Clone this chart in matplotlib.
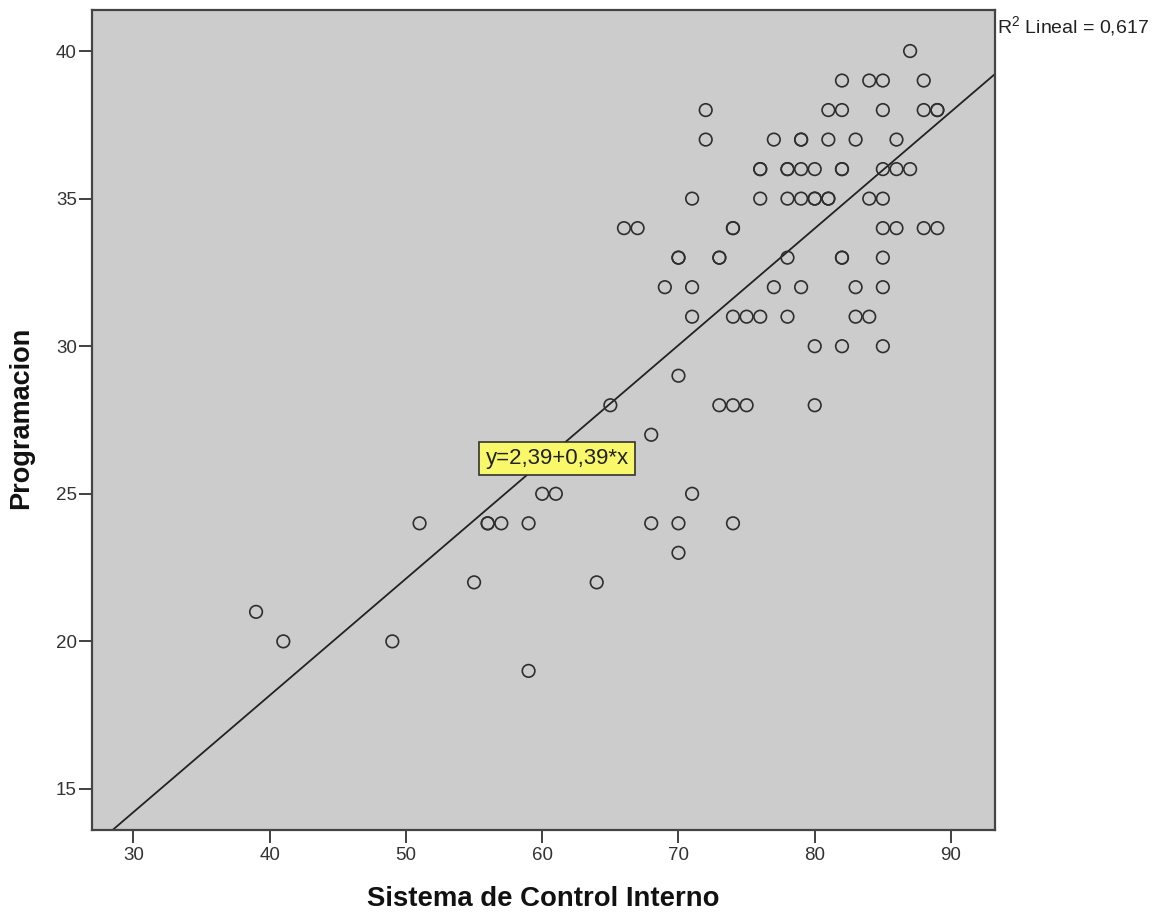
import matplotlib
matplotlib.use("Agg")
import matplotlib.pyplot as plt
import numpy as np

# Data (Programacion value -> Sistema de Control Interno values)
rows = {
    40: [87],
    39: [82, 84, 85, 88],
    38: [72, 81, 82, 85, 88, 89, 89],
    37: [72, 77, 79, 79, 81, 83, 86],
    36: [76, 76, 78, 78, 79, 80, 82, 82, 85, 86, 87],
    35: [71, 76, 78, 79, 80, 80, 81, 81, 84, 85],
    34: [66, 67, 74, 74, 85, 86, 88, 89],
    33: [70, 70, 73, 73, 78, 82, 82, 85],
    32: [69, 71, 77, 79, 83, 85],
    31: [71, 74, 75, 76, 78, 83, 84],
    30: [80, 82, 85],
    29: [70],
    28: [65, 73, 74, 75, 80],
    27: [68],
    25: [60, 61, 71],
    24: [51, 56, 56, 57, 59, 68, 70, 74],
    23: [70],
    22: [55, 64],
    21: [39],
    20: [41, 49],
    19: [59],
}
sistema_control = [x for yv, xs in rows.items() for x in xs]
programacion = [yv for yv, xs in rows.items() for x in xs]

intercept = 2.35
slope = 0.3955
eq_label = "y=2,39+0,39*x"
r2_label = r"R$^{\mathrm{2}}$ Lineal = 0,617"
x_ticks = [30, 40, 50, 60, 70, 80, 90]
y_ticks = [15, 20, 25, 30, 35, 40]

plt.rcParams['font.family'] = ['Liberation Sans', 'DejaVu Sans']
plt.rcParams['mathtext.fontset'] = 'custom'
plt.rcParams['mathtext.rm'] = 'Liberation Sans'

fig = plt.figure(figsize=(11.62, 9.14), dpi=100)
ax = fig.add_axes([92/1162, 84/914, 903/1162, 820/914])
ax.set_facecolor('#cccccc')

ax.scatter(sistema_control, programacion, s=82, facecolors='none',
           edgecolors='#2e2e2e', linewidths=1.2, zorder=3)

xlim = (26.96, 93.23)
ylim = (13.61, 41.39)
xx = np.array(xlim)
ax.plot(xx, intercept + slope * xx, color='#222222', lw=1.3, zorder=2)

ax.set_xlim(*xlim)
ax.set_ylim(*ylim)
ax.set_xticks(x_ticks)
ax.set_yticks(y_ticks)
ax.tick_params(axis='both', direction='out', length=9.5, width=1.3,
               color='#333333', labelsize=13.5, labelcolor='#333333', pad=1.5)
ax.tick_params(axis='x', pad=3)
for s in ax.spines.values():
    s.set_color('#444444')
    s.set_linewidth(1.6)

ax.set_xlabel('Sistema de Control Interno', fontsize=19.8, fontweight='bold',
              va='center', color='#111111')
ax.xaxis.set_label_coords(0.5, (830 - 899) / 820)
ax.set_ylabel('Programacion', fontsize=19.5, fontweight='bold',
              va='center', color='#111111')
ax.yaxis.set_label_coords((21 - 92) / 903, 0.502)

ax.text(61.1, 26.2, eq_label, fontsize=16, ha='center', va='center',
        color='#222222', zorder=5,
        bbox=dict(boxstyle='square,pad=0.28', facecolor='#f8f86a',
                  edgecolor='#333333', linewidth=1.2))

fig.text(997/1162, 1 - 34/914, r2_label, fontsize=14, ha='left',
         va='baseline', color='#222222')

fig.savefig('out.png', dpi=100)
